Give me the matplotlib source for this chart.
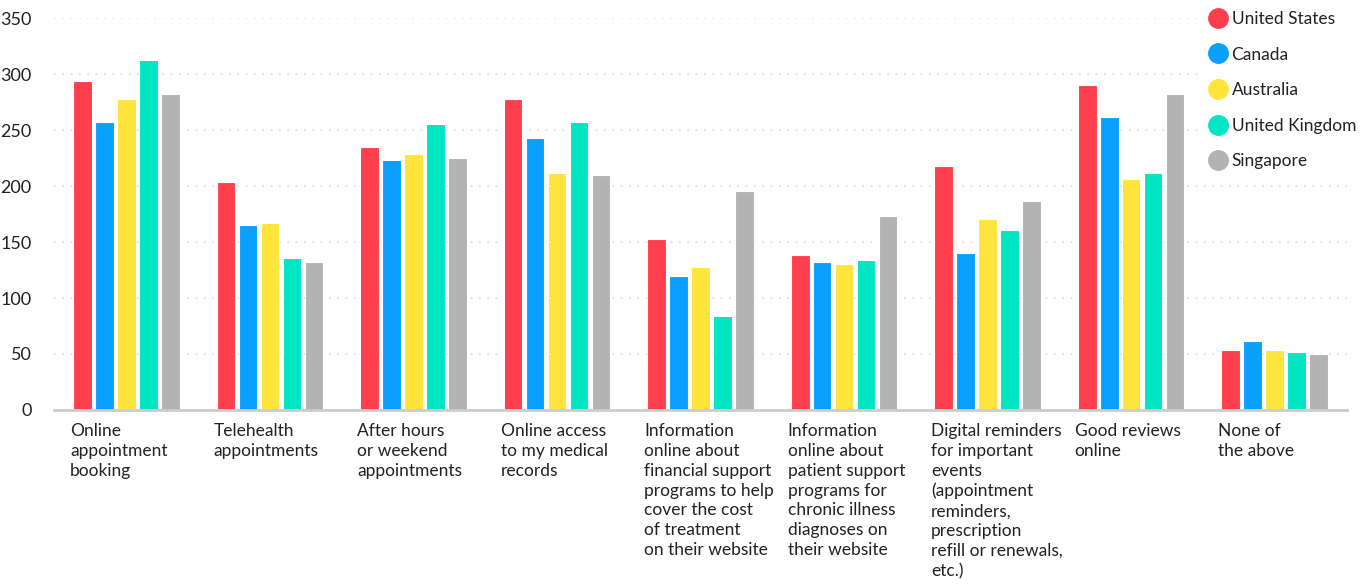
import numpy as np
import matplotlib
matplotlib.use("Agg")
import matplotlib.pyplot as plt
from matplotlib.lines import Line2D

# Datos
categorias = [
    "Online\nappointment\nbooking",
    "Telehealth\nappointments",
    "After hours\nor weekend\nappointments",
    "Online access\nto my medical\nrecords",
    "Information\nonline about\nfinancial support\nprograms to help\ncover the cost\nof treatment\non their website",
    "Information\nonline about\npatient support\nprograms for\nchronic illness\ndiagnoses on\ntheir website",
    "Digital reminders\nfor important\nevents\n(appointment\nreminders,\nprescription\nrefill or renewals,\netc.)",
    "Good reviews\nonline",
    "None of\nthe above",
]
paises = ["United States", "Canada", "Australia", "United Kingdom", "Singapore"]
united_states = [294, 204, 235, 278, 153, 138, 218, 290, 54]
canada = [257, 165, 223, 243, 120, 132, 140, 262, 62]
australia = [278, 167, 229, 212, 128, 130, 171, 206, 54]
united_kingdom = [313, 136, 255, 257, 84, 134, 161, 212, 52]
singapore = [282, 132, 225, 210, 196, 173, 187, 282, 50]
yticks = [0, 50, 100, 150, 200, 250, 300, 350]

series = [united_states, canada, australia, united_kingdom, singapore]
colores = ["#FF3F4E", "#0AA0FF", "#FFE53B", "#00E5C3", "#B3B3B3"]

plt.rcParams['font.family'] = ['Lato', 'DejaVu Sans']

fig = plt.figure(figsize=(13.67, 5.84), dpi=100)
ax = fig.add_axes([0.0395, 0.298, 0.946, 0.671])

x = np.arange(len(categorias))
paso = 0.153
ancho = 0.13
for i, (vals, col) in enumerate(zip(series, colores)):
    ax.bar(x + (i - 2) * paso, vals, width=ancho, color=col,
           edgecolor="white", linewidth=0.8, zorder=3)

ax.set_xlim(-0.505, 8.505)
ax.set_ylim(0, 350)
ax.set_yticks(yticks)
ax.set_yticklabels([str(v) for v in yticks], fontsize=13, color="#222222")
ax.tick_params(axis="y", length=0, pad=16)
ax.set_xticks([])

for v in yticks[1:]:
    ax.axhline(v, color="#DDDDDD", linestyle=(0, (1, 4)), linewidth=1.2, zorder=1)

for s in ["top", "right", "left"]:
    ax.spines[s].set_visible(False)
ax.spines["bottom"].set_color("#CCCCCC")
ax.spines["bottom"].set_linewidth(2)
ax.spines["bottom"].set_zorder(4)

# Etiquetas de categoría alineadas a la izquierda bajo cada grupo
for xi, etiqueta in zip(x, categorias):
    ax.text(xi - 0.394, -11.5, etiqueta, ha="left", va="top", fontsize=12.5,
            color="#222222", linespacing=1.3, clip_on=False)

handles = [Line2D([], [], marker="o", linestyle="", markersize=14,
                  markerfacecolor=c, markeredgecolor=c) for c in colores]
leg = fig.legend(handles, paises, loc="upper left", bbox_to_anchor=(0.873, 1.008),
                 frameon=True, facecolor="white", edgecolor="none", framealpha=1,
                 fontsize=12.5, labelspacing=1.13, handletextpad=0.3,
                 handlelength=1.0, borderpad=0.4)
for t in leg.get_texts():
    t.set_color("#222222")

fig.savefig("out.png", dpi=100)
